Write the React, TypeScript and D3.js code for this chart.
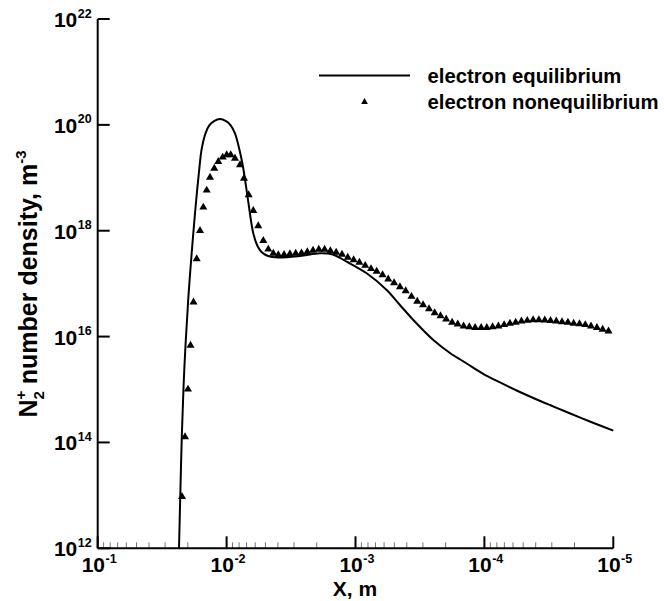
import React from "react";
import * as d3 from "d3";

const eqX = [0.0234, 0.02282, 0.02222, 0.02125, 0.01986, 0.01902, 0.01813, 0.01721, 0.01622, 0.01566, 0.01458, 0.01358, 0.01252, 0.01125, 0.01011, 0.00933, 0.00861, 0.00794, 0.00746, 0.00682, 0.00621, 0.00576, 0.00536, 0.00477, 0.00399, 0.0027, 0.00189, 0.0015, 0.00117, 8.19e-4, 5.73e-4, 4.52e-4, 3.56e-4, 2.49e-4, 1.85e-4, 1.37e-4, 1.03e-4, 7.57e-5, 5.62e-5, 4.17e-5, 3.1e-5, 2.3e-5, 1.52e-5, 1e-5];
const eqY = [1e12, 1.26e13, 1.51e14, 2.66e15, 4.91e16, 2.09e17, 8.93e17, 3.8e18, 1.62e19, 3.35e19, 6.93e19, 9.93e19, 1.18e20, 1.29e20, 1.18e20, 9.93e19, 6.93e19, 3.35e19, 1.62e19, 3.8e18, 8.93e17, 5.14e17, 3.96e17, 3.33e17, 3.12e17, 3.33e17, 3.74e17, 3.56e17, 2.6e17, 1.57e17, 7.59e16, 3.95e16, 2.06e16, 8.61e15, 4.9e15, 3.1e15, 2.0e15, 1.36e15, 9.57e14, 6.92e14, 5.09e14, 3.76e14, 2.49e14, 1.67e14];

const neqX = [0.02218, 0.02102, 0.01993, 0.01905, 0.01806, 0.01706, 0.01608, 0.01516, 0.01427, 0.01345, 0.01246, 0.0116, 0.01072, 0.00998, 0.00929, 0.00861, 0.00787, 0.00733, 0.00674, 0.00621, 0.00568, 0.00519, 0.00475, 0.00434, 0.00397,
  0.003581, 0.003228, 0.00291, 0.002624, 0.002365, 0.002136, 0.001926, 0.001737, 0.001566, 0.001412, 0.001273, 0.001148, 0.001034, 9.33e-4, 8.41e-4, 7.58e-4, 6.85e-4, 6.17e-4, 5.57e-4, 5.02e-4, 4.52e-4, 4.08e-4, 3.68e-4, 3.32e-4, 2.99e-4, 2.69e-4, 2.43e-4, 2.19e-4, 1.98e-4, 1.78e-4, 1.61e-4, 1.45e-4, 1.31e-4, 1.18e-4, 1.06e-4, 9.58e-5, 8.64e-5, 7.79e-5, 7.03e-5, 6.34e-5, 5.72e-5, 5.16e-5, 4.65e-5, 4.19e-5, 3.78e-5, 3.4e-5, 3.07e-5, 2.77e-5, 2.5e-5, 2.25e-5, 2.03e-5, 1.83e-5, 1.65e-5, 1.49e-5, 1.34e-5, 1.21e-5, 1.09e-5];
const neqY = [9.44e12, 1.27e14, 1.01e15, 6.84e15, 4.45e16, 2.92e17, 1.0e18, 2.77e18, 5.81e18, 1.02e19, 1.51e19, 2.01e19, 2.44e19, 2.7e19, 2.7e19, 2.33e19, 1.75e19, 9.77e18, 4.73e18, 2.39e18, 1.23e18, 6.47e17, 4.46e17, 3.74e17, 3.48e17,
  3.54e17, 3.63e17, 3.72e17, 3.79e17, 3.96e17, 4.23e17, 4.42e17, 4.42e17, 4.14e17, 3.88e17, 3.56e17, 3.12e17, 2.8e17, 2.51e17, 2.2e17, 1.91e17, 1.7e17, 1.46e17, 1.22e17, 1.03e17, 8.65e16, 7.26e16, 5.71e16, 4.6e16, 3.95e16, 3.32e16, 2.81e16, 2.45e16, 2.13e16, 1.86e16, 1.71e16, 1.58e16, 1.52e16, 1.47e16, 1.47e16, 1.48e16, 1.52e16, 1.58e16, 1.67e16, 1.77e16, 1.85e16, 1.95e16, 2.01e16, 2.06e16, 2.06e16, 2.05e16, 2.0e16, 1.95e16, 1.9e16, 1.85e16, 1.78e16, 1.73e16, 1.67e16, 1.58e16, 1.48e16, 1.37e16, 1.27e16];

const xMajor = [1e-1, 1e-2, 1e-3, 1e-4, 1e-5];
const xMajorExp = ["-1", "-2", "-3", "-4", "-5"];
const yMajor = [1e12, 1e14, 1e16, 1e18, 1e20, 1e22];
const yMajorExp = ["12", "14", "16", "18", "20", "22"];
const legendLabels = ["electron equilibrium", "electron nonequilibrium"];

const FONT = "'Liberation Sans', Arial, Helvetica, sans-serif";

export default function App() {
  const x = d3.scaleLog().domain([1e-1, 1e-5]).range([97.7, 613.3]);
  const y = d3.scaleLog().domain([1e12, 1e22]).range([548.3, 19]);
  const x0 = x.range()[0], x1 = x.range()[1];
  const y0 = y.range()[0], y1 = y.range()[1];

  const minor: number[] = [];
  for (let e = -2; e >= -5; e--) {
    for (let m = 2; m <= 9; m++) minor.push(m * Math.pow(10, e));
  }

  const eqData = eqX.map((v, i) => [v, eqY[i]] as [number, number]);
  const line = d3.line<[number, number]>()
    .x(d => x(d[0]))
    .y(d => y(d[1]))
    .curve(d3.curveCatmullRom.alpha(0.5));

  const tri = d3.symbol().type(d3.symbolTriangle).size(28)();
  const triLegend = d3.symbol().type(d3.symbolTriangle).size(20)();

  return (
    <svg width={664} height={601} style={{ position: "absolute", left: 0, top: 0, background: "#fff" }}
      fontFamily={FONT} fontWeight="bold">
      <defs>
        <clipPath id="plot">
          <rect x={x0} y={y1 - 5} width={x1 - x0 + 5} height={y0 - y1 + 5} />
        </clipPath>
      </defs>
      {minor.map((v, i) => (
        <line key={"mi" + i} x1={x(v)} x2={x(v)} y1={y0} y2={y0 - 6} stroke="#777" strokeWidth={1} />
      ))}
      {xMajor.map((v, i) => (
        <line key={"mx" + i} x1={x(v)} x2={x(v)} y1={y0} y2={y0 - 12} stroke="#000" strokeWidth={2} />
      ))}
      {yMajor.map((v, i) => (
        <line key={"my" + i} x1={x0} x2={x0 + 12} y1={y(v)} y2={y(v)} stroke="#000" strokeWidth={2} />
      ))}
      <line x1={x0} x2={x1} y1={y0} y2={y0} stroke="#000" strokeWidth={2} />
      <line x1={x0} x2={x0} y1={y0} y2={y1} stroke="#000" strokeWidth={2} />

      {xMajor.map((v, i) => (
        <g key={"xl" + i}>
          <text x={x(v) + 7.3} y={y0 + 23.5} fontSize={21} textAnchor="end">10</text>
          <text x={x(v) + 7.8} y={y0 + 14.5} fontSize={12.5} textAnchor="start">{xMajorExp[i]}</text>
        </g>
      ))}
      {yMajor.map((v, i) => (
        <g key={"yl" + i}>
          <text x={77.3} y={y(v) + 8} fontSize={21} textAnchor="end">10</text>
          <text x={77.8} y={y(v) - 1.5} fontSize={12.5} textAnchor="start">{yMajorExp[i]}</text>
        </g>
      ))}

      <text x={355} y={595.5} fontSize={21} textAnchor="middle">X, m</text>
      <text transform={`translate(37,${284}) rotate(-90)`} fontSize={25} textAnchor="middle">
        N<tspan fontSize={15} dy={-11}>+</tspan><tspan fontSize={15} dx={-8.8} dy={18}>2</tspan><tspan dy={-7}> number density, m</tspan><tspan fontSize={15} dy={-11}>-3</tspan>
      </text>

      <g clipPath="url(#plot)">
        <path d={line(eqData) || ""} fill="none" stroke="#000" strokeWidth={2} />
        {neqX.map((v, i) => (
          <path key={"t" + i} d={tri || ""} transform={`translate(${x(v)},${y(neqY[i])})`} fill="#000" />
        ))}
      </g>

      <line x1={319} x2={410} y1={75.5} y2={75.5} stroke="#000" strokeWidth={2} />
      <text x={427.5} y={82.5} fontSize={20.3}>{legendLabels[0]}</text>
      <path d={triLegend || ""} transform="translate(364.5,102)" fill="#000" />
      <text x={427.5} y={108.5} fontSize={20.3}>{legendLabels[1]}</text>
    </svg>
  );
}
